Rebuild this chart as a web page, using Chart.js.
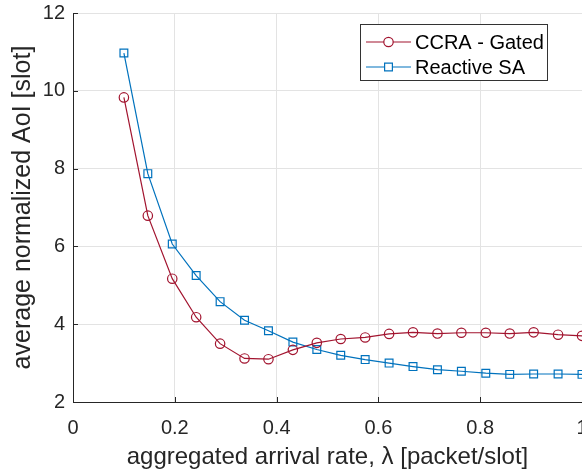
<!DOCTYPE html>
<html>
<head>
<meta charset="utf-8">
<script src="https://cdn.jsdelivr.net/npm/chart.js@4.4.0/dist/chart.umd.min.js"></script>
<style>
  html, body { margin: 0; padding: 0; background: #fff; }
  #wrap { width: 582px; height: 473px; }
</style>
</head>
<body>
<div id="wrap"><canvas id="aoi"></canvas></div>
<script>
// arrival rate, 20 points from 0.1 to 1
var lambdaVals = [0.1, 0.147, 0.195, 0.242, 0.289, 0.337, 0.384, 0.432, 0.479, 0.526,
                  0.574, 0.621, 0.668, 0.716, 0.763, 0.811, 0.858, 0.905, 0.953, 1.0];
var ccraGated = [9.83, 6.79, 5.17, 4.18, 3.50, 3.12, 3.10, 3.34, 3.52, 3.62,
                 3.66, 3.75, 3.79, 3.76, 3.78, 3.78, 3.76, 3.79, 3.73, 3.70];
var reactiveSA = [10.97, 7.87, 6.06, 5.25, 4.58, 4.10, 3.83, 3.54, 3.35, 3.20,
                  3.09, 3.00, 2.91, 2.83, 2.79, 2.74, 2.71, 2.72, 2.72, 2.71];
var seriesNames = ["CCRA - Gated", "Reactive SA"];
var xTicks = [0, 0.2, 0.4, 0.6, 0.8, 1];
var yTicks = [2, 4, 6, 8, 10, 12];

var RED = "#A2142F";
var BLUE = "#0072BD";
var AXIS = "#262626";
var FONT = "'Liberation Sans', Arial, sans-serif";

function toPoints(xs, ys) {
    var pts = [];
    for (var i = 0; i < xs.length; i++) {
        pts.push({x: xs[i], y: ys[i]});
    }
    return pts;
}

/*
 inward tick marks, axis lines and the boxed legend (matlab look)
 */
var matlabBits = {
    id: "matlabBits",
    afterDraw: function (chart) {
        var ctx = chart.ctx;
        var area = chart.chartArea;
        var xs = chart.scales.x;
        var ys = chart.scales.y;
        ctx.save();
        ctx.strokeStyle = AXIS;
        ctx.lineWidth = 1;
        ctx.beginPath();
        ctx.moveTo(area.left + 0.5, area.top);
        ctx.lineTo(area.left + 0.5, area.bottom + 0.5);
        ctx.lineTo(area.right, area.bottom + 0.5);
        for (var i = 0; i < xTicks.length; i++) {
            var px = Math.round(xs.getPixelForValue(xTicks[i])) + 0.5;
            ctx.moveTo(px, area.bottom);
            ctx.lineTo(px, area.bottom - 5);
        }
        for (var j = 0; j < yTicks.length; j++) {
            var py = Math.round(ys.getPixelForValue(yTicks[j])) + 0.5;
            ctx.moveTo(area.left, py);
            ctx.lineTo(area.left + 5, py);
        }
        ctx.stroke();

        // legend box
        var lx = 360.5, ly = 24.5, lw = 187, lh = 56;
        ctx.fillStyle = "#fff";
        ctx.fillRect(lx, ly, lw, lh);
        ctx.strokeStyle = "#333";
        ctx.strokeRect(lx, ly, lw, lh);
        var colors = [RED, BLUE];
        var styles = ["circle", "rect"];
        var radii = [4.7, 5.5];
        ctx.font = "20px " + FONT;
        ctx.textBaseline = "middle";
        for (var k = 0; k < seriesNames.length; k++) {
            var rowY = 42 + k * 25;
            ctx.strokeStyle = colors[k];
            ctx.lineWidth = 1.2;
            ctx.beginPath();
            ctx.moveTo(366, rowY);
            ctx.lineTo(411, rowY);
            ctx.stroke();
            ctx.fillStyle = "#fff";
            Chart.helpers.drawPoint(ctx, {
                pointStyle: styles[k], radius: radii[k], borderWidth: 1.2, rotation: 0
            }, 388.5, rowY);
            ctx.fillStyle = "#000";
            ctx.fillText(seriesNames[k], 415, rowY + 1);
        }
        ctx.restore();
    }
};

var ctx = document.getElementById("aoi").getContext("2d");
var aoiChart = new Chart(ctx, {
    type: "line",
    data: {
        datasets: [
            {
                label: seriesNames[0],
                data: toPoints(lambdaVals, ccraGated),
                borderColor: RED,
                backgroundColor: "rgba(0,0,0,0)",
                borderWidth: 1.2,
                pointStyle: "circle",
                pointRadius: 4.7,
                pointBorderWidth: 1.2,
                tension: 0,
                clip: false
            },
            {
                label: seriesNames[1],
                data: toPoints(lambdaVals, reactiveSA),
                borderColor: BLUE,
                backgroundColor: "rgba(0,0,0,0)",
                borderWidth: 1.2,
                pointStyle: "rect",
                pointRadius: 5.5,
                pointBorderWidth: 1.2,
                tension: 0,
                clip: false
            }
        ]
    },
    options: {
        responsive: true,
        maintainAspectRatio: false,
        animation: false,
        events: [],
        layout: { autoPadding: false, padding: { top: 13, right: 0, left: 0, bottom: 0 } },
        plugins: {
            legend: { display: false },
            tooltip: { enabled: false }
        },
        scales: {
            x: {
                type: "linear",
                min: 0,
                max: 1,
                afterBuildTicks: function (scale) {
                    scale.ticks = xTicks.map(function (v) { return {value: v}; });
                },
                afterFit: function (scale) {
                    scale.height = 71;
                    scale.paddingLeft = 0;
                    scale.paddingRight = 0;
                },
                border: { display: false },
                grid: { color: "#e3e3e3", lineWidth: 1, drawTicks: false },
                ticks: {
                    color: AXIS,
                    padding: 14,
                    maxRotation: 0,
                    font: { family: FONT, size: 20 },
                    callback: function (v) { return String(v); }
                },
                title: {
                    display: true,
                    text: "aggregated arrival rate, λ [packet/slot]",
                    color: AXIS,
                    font: { family: FONT, size: 24 },
                    padding: { top: 0, bottom: 1 }
                }
            },
            y: {
                type: "linear",
                min: 2,
                max: 12,
                afterBuildTicks: function (scale) {
                    scale.ticks = yTicks.map(function (v) { return {value: v}; });
                },
                afterFit: function (scale) {
                    scale.width = 73;
                    scale.paddingTop = 0;
                    scale.paddingBottom = 0;
                },
                border: { display: false },
                grid: { color: "#e3e3e3", lineWidth: 1, drawTicks: false },
                ticks: {
                    color: AXIS,
                    padding: 8,
                    font: { family: FONT, size: 20 }
                },
                title: {
                    display: true,
                    text: "average normalized AoI [slot]",
                    color: AXIS,
                    font: { family: FONT, size: 25 },
                    padding: { top: 8, bottom: 0 }
                }
            }
        }
    },
    plugins: [matlabBits]
});
</script>
</body>
</html>
